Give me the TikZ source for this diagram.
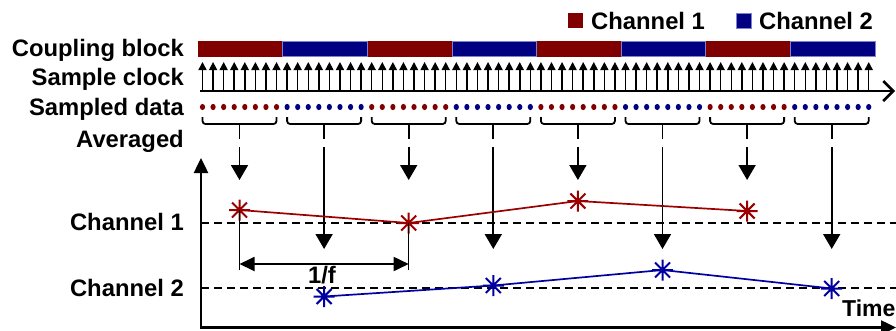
\documentclass[tikz,border=0pt]{standalone}
\usepackage{fontspec}
\setmainfont{Liberation Sans}
\usetikzlibrary{arrows.meta}
\definecolor{chred}{HTML}{800000}
\definecolor{chblue}{HTML}{000080}
\definecolor{edgeblue}{HTML}{8080D0}
\definecolor{lnred}{HTML}{9A0000}
\definecolor{lnblue}{HTML}{0000A0}

\begin{document}
\begin{tikzpicture}[x=1pt,y=-1pt,
  lbl/.style={font=\fontsize{23.8}{28}\selectfont\bfseries, inner sep=0pt},
  small/.style={font=\fontsize{23}{27}\selectfont\bfseries, inner sep=0pt},
  clkline/.style={line width=1.5pt, -{Triangle[length=8pt,width=8pt]}},
  brace/.style={line width=1.8pt, rounded corners=3pt},
  avgarrow/.style={line width=1.8pt, -{Triangle[length=15pt,width=17pt]}},
  axis/.style={line width=2.5pt, -{Triangle[length=15pt,width=14pt]}},
  refline/.style={line width=1.8pt, dash pattern=on 8pt off 5pt},
  dimarrow/.style={line width=1.8pt, {Triangle[length=15pt,width=14pt]}-{Triangle[length=15pt,width=14pt]}},
  astar/.pic={\draw[line width=2pt] (-10.5,0)--(10.5,0) (0,-10.5)--(0,10.5) (-7.5,-7.5)--(7.5,7.5) (-7.5,7.5)--(7.5,-7.5);}
]
\useasboundingbox (0,0) rectangle (896,330);

% row labels
\node[lbl,anchor=base east] (lcb) at (184,56.5) {Coupling block};
\node[lbl,anchor=base east] (lsc) at (184,85) {Sample clock};
\node[lbl,anchor=base east] (lsd) at (184,115) {Sampled data};
\node[lbl,anchor=base east] (lav) at (184,147.5) {Averaged};
\node[lbl,anchor=base east] (lc1) at (184,230.5) {Channel 1};
\node[lbl,anchor=base east] (lc2) at (184,296) {Channel 2};

% legend
\fill[chred] (568,13) rectangle (583,28);
\node[lbl,anchor=base west] (leg1) at (591,29.5) {Channel 1};
\filldraw[fill=chblue,draw=edgeblue,line width=0.6pt] (736,13) rectangle (751,28);
\node[lbl,anchor=base west] (leg2) at (759,29.5) {Channel 2};

% coupling block bar
\foreach \k in {0,2,4,6}
  \fill[chred] ({198+84.6*\k},41) rectangle ++(84.6,15.5);
\foreach \k in {1,3,5,7}
  \filldraw[fill=chblue,draw=edgeblue,line width=0.6pt] ({198+84.6*\k},41) rectangle ++(84.6,15.5);

% sample clock
\coordinate (clkstart) at (200,91);
\coordinate (clkend) at (895,91);
\foreach \i in {0,...,63}
  \draw[clkline] ({202.5+10.575*\i},91) -- ({202.5+10.575*\i},62);
\draw[line width=2.5pt, -{Straight Barb[length=10pt,width=20pt]}] (clkstart) -- (clkend);

% sampled data
\foreach \k/\c in {0/chred,1/chblue,2/chred,3/chblue,4/chred,5/chblue,6/chred,7/chblue}
  \foreach \j in {0,...,7}
    \fill[\c] ({202.5+10.575*(8*\k+\j)},107) ellipse (2.6 and 3.1);

% averaging braces and arrows
\foreach \k in {0,...,7} {
  \pgfmathsetmacro\xa{202.5+84.6*\k}
  \pgfmathsetmacro\xb{\xa+74.0}
  \pgfmathsetmacro\xc{\xa+37.0}
  \pgfmathsetmacro\yt{mod(\k,2)==0 ? 180 : 249}
  \draw[brace] (\xa,117) -- (\xa,124) -- (\xb,124) -- (\xb,117);
  \coordinate (bt\k) at (\xc,124);
  \coordinate (bb\k) at (\xc,139);
  \coordinate (at\k) at (\xc,147);
  \coordinate (ab\k) at (\xc,\yt);
  \draw[line width=1.8pt] (bt\k) -- (bb\k);
  \draw[avgarrow] (at\k) -- (ab\k);
}

% reference levels
\coordinate (c1a) at (201,223);
\coordinate (c1b) at (896,223);
\coordinate (c2a) at (201,288);
\coordinate (c2b) at (896,288);
\draw[refline] (c1a) -- (c1b);
\draw[refline] (c2a) -- (c2b);

% averaged values
\coordinate (r1) at (239.5,210);
\coordinate (r2) at (408.7,223);
\coordinate (r3) at (577.9,201);
\coordinate (r4) at (747.1,211);
\coordinate (q1) at (324.1,296.5);
\coordinate (q2) at (493.3,285.5);
\coordinate (q3) at (662.5,270);
\coordinate (q4) at (831.7,288.5);
\draw[lnred,line width=1.7pt] (r1) -- (r2) -- (r3) -- (r4);
\draw[lnblue,line width=1.7pt] (q1) -- (q2) -- (q3) -- (q4);
\foreach \p in {r1,r2,r3,r4}
  \pic[lnred] at (\p) {astar};
\foreach \p in {q1,q2,q3,q4}
  \pic[lnblue] at (\p) {astar};

% period dimension
\coordinate (d1) at (239.5,270);
\coordinate (d2) at (408.7,270);
\coordinate (e1) at (239.5,264);
\coordinate (e2) at (408.7,264);
\draw[line width=1.5pt] (r1) -- (d1);
\draw[line width=1.5pt] (r2) -- (d2);
\draw[dimarrow] (e1) -- (e2);
\node[lbl,anchor=base] (per) at (322,283) {1/f};

% axes
\coordinate (org) at (201,327.5);
\coordinate (ytop) at (201,158);
\coordinate (xend) at (896,327.5);
\draw[axis] (org) -- (ytop);
\draw[axis] ([xshift=-1.25pt]org) -- (xend);
\node[small,anchor=base west] (tlab) at (842,316) {Time};
\end{tikzpicture}
\end{document}
